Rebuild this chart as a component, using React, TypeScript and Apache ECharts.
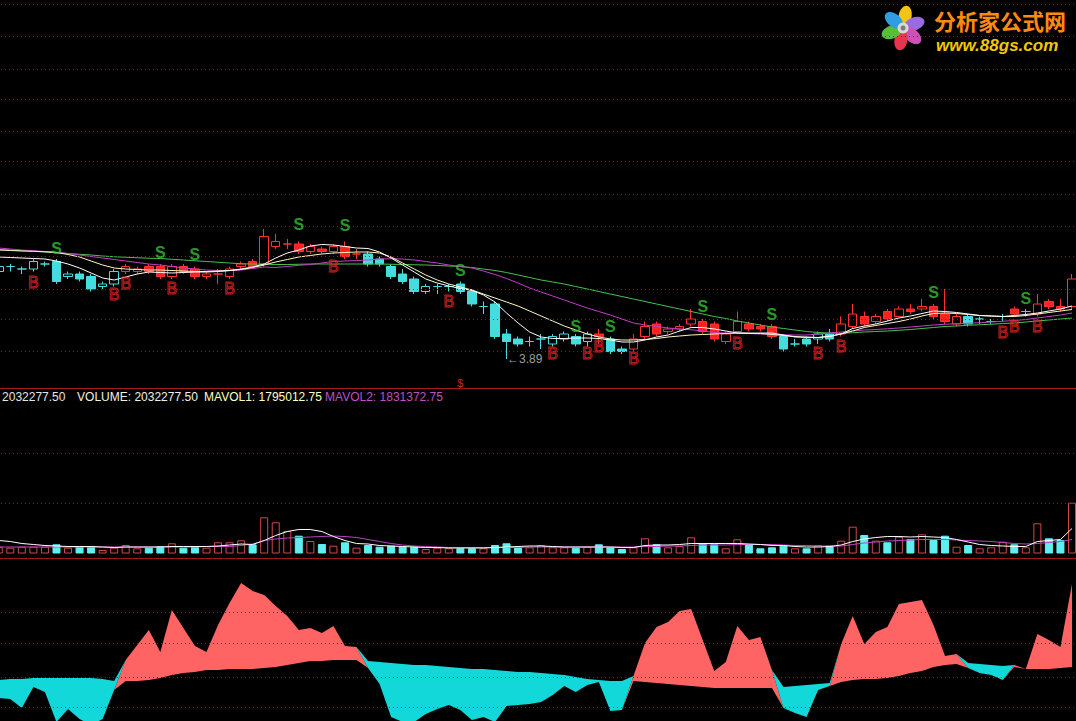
import React, { useEffect, useRef } from "react";
import * as echarts from "echarts";

// ---------- DATA ----------
const opens = [4.24,4.26,4.25,4.25,4.27,4.28,4.22,4.23,4.22,4.18, 4.19,4.24,4.24,4.26,4.26,4.22,4.26,4.25,4.22,4.23, 4.22,4.26,4.28,4.27,4.34,4.35,4.35,4.32,4.33,4.32, 4.34,4.31,4.31,4.29,4.26,4.23,4.21,4.16,4.18,4.18, 4.19,4.16,4.10,4.11,3.99,3.97,3.96,3.97,3.95,3.97, 3.98,3.96,3.99,3.97,3.93,3.93,3.98,4.03,4.00,4.01, 4.03,4.04,4.03,3.96,4.00,4.03,4.02,4.02,3.98,3.95, 3.97,3.97,3.99,3.99,4.02,4.06,4.04,4.08,4.06,4.09, 4.09,4.10,4.07,4.03,4.06,4.05,4.04,4.06,4.09,4.08, 4.07,4.12,4.10,4.10];
const closes = [4.26,4.26,4.25,4.28,4.27,4.20,4.23,4.21,4.17,4.19, 4.24,4.26,4.25,4.24,4.22,4.26,4.24,4.22,4.23,4.23, 4.25,4.27,4.26,4.38,4.36,4.35,4.32,4.34,4.32,4.34, 4.30,4.31,4.27,4.27,4.22,4.20,4.16,4.18,4.18,4.18, 4.16,4.11,4.10,3.98,3.96,3.95,3.96,3.97,3.98,3.99, 3.95,3.99,3.98,3.92,3.92,3.97,4.02,3.99,4.01,4.02, 4.05,4.00,3.97,3.99,4.04,4.01,4.01,3.98,3.93,3.95, 3.95,3.99,3.97,4.03,4.07,4.03,4.06,4.05,4.09,4.08, 4.10,4.06,4.04,4.06,4.03,4.05,4.04,4.06,4.07,4.08, 4.11,4.10,4.09,4.21];
const lows = [4.23,4.24,4.23,4.24,4.26,4.19,4.21,4.20,4.16,4.17, 4.18,4.23,4.23,4.23,4.21,4.21,4.23,4.21,4.21,4.19, 4.21,4.25,4.25,4.26,4.33,4.33,4.31,4.31,4.31,4.31, 4.29,4.29,4.26,4.26,4.21,4.19,4.15,4.15,4.15,4.16, 4.15,4.10,4.07,3.97,3.89,3.94,3.94,3.93,3.94,3.96, 3.94,3.94,3.95,3.91,3.91,3.92,3.97,3.98,3.99,4.00, 4.02,3.99,3.96,3.95,3.99,4.00,4.00,3.97,3.92,3.94, 3.94,3.95,3.96,3.98,4.01,4.02,4.03,4.04,4.06,4.07, 4.08,4.05,4.03,4.02,4.02,4.03,4.03,4.04,4.06,4.06, 4.06,4.09,4.08,4.09];
const highs = [4.27,4.27,4.26,4.29,4.28,4.29,4.24,4.24,4.23,4.20, 4.25,4.27,4.26,4.27,4.27,4.27,4.27,4.26,4.24,4.25, 4.26,4.28,4.29,4.41,4.39,4.37,4.36,4.35,4.34,4.35, 4.36,4.33,4.32,4.30,4.27,4.25,4.22,4.19,4.19,4.19, 4.20,4.17,4.12,4.12,4.01,3.98,3.98,3.99,3.99,4.00, 3.99,4.00,4.01,3.98,3.94,3.99,4.04,4.04,4.02,4.03, 4.09,4.05,4.04,4.00,4.08,4.04,4.03,4.03,3.99,3.97, 3.98,4.00,4.01,4.06,4.11,4.08,4.07,4.09,4.10,4.11, 4.13,4.11,4.17,4.07,4.07,4.06,4.05,4.07,4.10,4.09, 4.15,4.13,4.13,4.23];
// trend state of the colouring formula: runs of [state, length]
const trendRuns: [string, number][] = [["C",11],["R",21],["C",20],["R",1],["C",2],["R",13],["C",5],["R",11],["C",4],["R",1],["C",1],["R",4]];

const ma5 = [4.298,4.296,4.294,4.292,4.290,4.282,4.270,4.254,4.234,4.214, 4.206,4.218,4.230,4.238,4.236,4.234,4.236,4.238,4.238,4.240, 4.244,4.250,4.258,4.270,4.294,4.314,4.326,4.342,4.348,4.346, 4.340,4.334,4.332,4.318,4.294,4.266,4.238,4.210,4.194,4.182, 4.172,4.164,4.146,4.118,4.074,4.034,3.998,3.978,3.972,3.972, 3.974,3.974,3.972,3.966,3.958,3.958,3.966,3.978,3.986,4.002, 4.016,4.016,4.010,4.002,3.994,3.992,3.994,3.994,3.986,3.978, 3.978,3.976,3.980,3.990,4.012,4.022,4.030,4.042,4.054,4.062, 4.072,4.082,4.080,4.076,4.070,4.064,4.062,4.060,4.064,4.068, 4.074,4.082,4.090,4.102];
const ma10 = [4.326,4.324,4.322,4.321,4.319,4.316,4.308,4.298,4.282,4.266, 4.254,4.250,4.248,4.246,4.246,4.244,4.242,4.240,4.240,4.242, 4.244,4.248,4.256,4.266,4.278,4.288,4.298,4.304,4.310,4.314, 4.316,4.318,4.318,4.314,4.298,4.274,4.250,4.226,4.206,4.190, 4.178,4.166,4.150,4.134,4.118,4.102,4.082,4.062,4.042,4.022, 4.006,3.990,3.978,3.970,3.966,3.966,3.968,3.972,3.978,3.982, 3.986,3.988,3.990,3.992,3.994,3.994,3.992,3.988,3.984,3.980, 3.976,3.976,3.982,3.990,4.002,4.016,4.024,4.032,4.040,4.050, 4.062,4.072,4.074,4.072,4.068,4.064,4.062,4.060,4.060,4.064, 4.070,4.076,4.082,4.088];
const ma20 = [4.334,4.330,4.326,4.323,4.320,4.318,4.312,4.306,4.300,4.294, 4.288,4.282,4.276,4.270,4.266,4.260,4.254,4.250,4.246,4.244, 4.243,4.246,4.252,4.258,4.256,4.260,4.265,4.268,4.274,4.280, 4.282,4.284,4.286,4.290,4.291,4.290,4.286,4.280,4.274,4.266, 4.260,4.254,4.242,4.228,4.212,4.194,4.174,4.158,4.142,4.126, 4.110,4.094,4.080,4.066,4.050,4.034,4.026,4.020,4.014,4.010, 4.007,4.002,3.996,3.994,3.993,3.992,3.990,3.989,3.987,3.986, 3.986,3.990,3.994,3.998,4.002,4.006,4.008,4.011,4.014,4.018, 4.022,4.026,4.029,4.031,4.033,4.035,4.038,4.041,4.044,4.048, 4.054,4.060,4.066,4.074];
const ma60 = [4.328,4.326,4.323,4.321,4.318,4.315,4.312,4.309,4.306,4.302, 4.299,4.297,4.295,4.293,4.292,4.289,4.286,4.283,4.280,4.277, 4.274,4.271,4.270,4.269,4.268,4.268,4.269,4.270,4.270,4.270, 4.270,4.270,4.270,4.270,4.269,4.268,4.267,4.266,4.264,4.262, 4.260,4.256,4.250,4.244,4.236,4.226,4.216,4.206,4.198,4.190, 4.180,4.170,4.160,4.150,4.140,4.130,4.120,4.110,4.100,4.090, 4.080,4.070,4.060,4.052,4.042,4.034,4.026,4.018,4.012,4.006, 4.000,3.996,3.994,3.993,3.995,3.998,4.000,4.002,4.005,4.008, 4.012,4.016,4.020,4.022,4.025,4.027,4.029,4.032,4.034,4.038, 4.042,4.046,4.050,4.054];

const sellIdx = [5,14,17,26,30,40,50,53,61,67,81,89];
const sellAt = [4.334,4.318,4.310,4.430,4.426,4.246,4.022,4.022,4.100,4.070,4.158,4.134];
const buyIdx = [3,10,11,15,20,29,39,48,51,52,55,64,71,73,87,88,90];
const buyAt = [4.198,4.148,4.194,4.174,4.174,4.260,4.120,3.914,3.914,3.942,3.894,3.954,3.914,3.940,3.998,4.022,4.022];
const dollarIdx = 40;
const dollarAt = 3.794;
const lowIdx = 44;
const lowValue = 3.89;

const volumes = [272000,232000,272000,272000,272000,368000,232000,272000,272000,140000, 232000,340000,208000,232000,300000,408000,232000,272000,232000,448000, 448000,528000,368000,1448000,1248000,900000,712000,500000,380000,312000, 448000,232000,340000,272000,312000,272000,272000,180000,232000,208000, 208000,208000,208000,340000,408000,248000,248000,340000,248000,248000, 232000,272000,368000,248000,180000,248000,608000,368000,248000,300000, 648000,408000,368000,208000,568000,368000,208000,248000,312000,208000, 208000,340000,312000,512000,1072000,740000,512000,448000,672000,580000, 768000,540000,712000,272000,340000,208000,248000,472000,368000,248000, 1208000,608000,540000,2032277.5];
const mavol1 = [520000,480000,400000,360000,320000,300000,280000,280000,280000,260000, 240000,260000,260000,260000,260000,280000,280000,280000,280000,300000, 340000,380000,360000,520000,720000,880000,960000,960000,880000,680000, 520000,400000,380000,320000,300000,280000,260000,240000,240000,220000, 220000,220000,220000,240000,260000,280000,300000,300000,280000,260000, 260000,260000,260000,260000,240000,240000,320000,340000,340000,360000, 400000,400000,400000,400000,400000,380000,360000,320000,320000,280000, 260000,260000,280000,340000,480000,580000,640000,680000,680000,660000, 680000,660000,640000,560000,460000,360000,320000,300000,280000,280000, 480000,520000,560000,1000000];
const mavol2 = [260000,260000,260000,260000,260000,260000,260000,260000,260000,260000, 260000,260000,260000,260000,260000,260000,260000,260000,280000,280000, 280000,320000,380000,520000,580000,620000,640000,660000,680000,700000, 680000,640000,560000,480000,400000,340000,300000,280000,260000,240000, 240000,240000,240000,240000,240000,240000,260000,260000,260000,260000, 260000,260000,260000,260000,260000,260000,280000,280000,300000,300000, 320000,340000,340000,340000,360000,360000,360000,360000,340000,320000, 320000,300000,300000,300000,360000,420000,460000,500000,520000,540000, 560000,560000,560000,540000,520000,500000,480000,440000,400000,380000, 400000,440000,480000,560000];

const fastLine = [-0.21,-0.22,-0.31,-0.10,-0.15,-0.45,-0.32,-0.42,-0.48,-0.42, -0.13,0.17,0.32,0.47,0.25,0.67,0.49,0.31,0.25,0.52, 0.74,0.94,0.86,0.82,0.71,0.61,0.47,0.49,0.44,0.51, 0.31,0.30,0.09,-0.07,-0.40,-0.45,-0.45,-0.37,-0.32,-0.28, -0.33,-0.43,-0.40,-0.45,-0.29,-0.28,-0.27,-0.25,-0.18,-0.09, -0.15,-0.08,-0.05,-0.34,-0.33,0.01,0.34,0.50,0.55,0.66, 0.68,0.37,0.06,0.15,0.51,0.37,0.40,0.07,-0.31,-0.36, -0.40,-0.13,-0.09,0.33,0.61,0.33,0.45,0.50,0.73,0.75, 0.77,0.52,0.21,0.23,0.09,0.04,0.02,-0.03,0.12,0.08, 0.43,0.37,0.30,0.93];
const slowLine = [-0.03,-0.02,-0.02,-0.01,-0.01,-0.01,-0.01,-0.01,-0.01,-0.02, -0.04,-0.04,-0.04,-0.03,-0.01,0.02,0.04,0.05,0.07,0.07, 0.08,0.08,0.08,0.09,0.10,0.12,0.14,0.16,0.16,0.17, 0.17,0.17,0.16,0.15,0.14,0.13,0.12,0.12,0.11,0.10, 0.09,0.08,0.08,0.07,0.06,0.05,0.05,0.04,0.03,0.02, 0.00,-0.02,-0.03,-0.04,-0.04,-0.04,-0.05,-0.06,-0.07,-0.08, -0.09,-0.10,-0.11,-0.11,-0.11,-0.11,-0.11,-0.11,-0.10,-0.09, -0.08,-0.07,-0.06,-0.05,-0.03,-0.02,-0.02,-0.01,0.01,0.04, 0.06,0.10,0.12,0.13,0.14,0.13,0.12,0.11,0.10,0.08, 0.08,0.08,0.09,0.10];

const headerTexts = ["2032277.50", "VOLUME: 2032277.50", "MAVOL1: 1795012.75", "MAVOL2: 1831372.75"];

// ---------- STYLE ----------
const RED = "#ff3232";
const RED_FILL = "#ff2020";
const CYAN = "#44dcdc";
const VOL_CYAN = "#5ef0f0";
const VOL_RED = "#d04848";
const GRID = "#6e2424";
const BORDER = "#a01818";
const FONT = '"Liberation Sans", Arial, sans-serif';
const SHIFT = 7.07; // the chart canvas starts left of the window (first bar is cut)
const STEP = 11.54;

export default function App() {
  const ref = useRef<HTMLDivElement>(null);
  useEffect(() => {
    const chart = echarts.init(ref.current as HTMLDivElement, null, { renderer: "svg" });
    const n = opens.length;
    const cats = opens.map((_, i) => String(i + 1));
    const trend: string[] = [];
    trendRuns.forEach(([s, k]) => { for (let j = 0; j < k; j++) trend.push(s); });

    const candleData = opens.map((o, i) => {
      const up = closes[i] >= o;
      const line = trend[i] === "R" ? RED : CYAN;
      const fill = up ? "#000000" : trend[i] === "R" ? RED_FILL : CYAN;
      return {
        value: [o, closes[i], lows[i], highs[i]],
        itemStyle: { color: fill, color0: fill, borderColor: line, borderColor0: line, borderColorDoji: line, borderWidth: 1 },
      };
    });
    const volData = volumes.map((v, i) => {
      const up = closes[i] >= opens[i];
      return {
        value: v,
        itemStyle: up
          ? { color: "#000000", borderColor: VOL_RED, borderWidth: 1 }
          : { color: VOL_CYAN, borderColor: VOL_CYAN, borderWidth: 1 },
      };
    });
    const base = fastLine.map((f, i) => Math.min(f, slowLine[i]));
    const upPart = fastLine.map((f, i) => Math.max(f - slowLine[i], 0));
    const downPart = fastLine.map((f, i) => Math.max(slowLine[i] - f, 0));

    const priceMin = 3.774, priceMax = 5.326;
    const priceGrid: number[] = [];
    for (let k = 0; k <= 11; k++) priceGrid.push(+(3.92 + 0.126 * k).toFixed(3));

    const gridWidth = STEP * n;
    const dotted = { color: GRID, type: [1, 3] as any, width: 1 };
    const mkLines = (vals: number[]) => ({
      silent: true, symbol: ["none", "none"], label: { show: false }, lineStyle: dotted,
      data: vals.map((v) => ({ yAxis: v })),
    });
    const lineS = (name: string, data: number[], color: string, xi: number) => ({
      name, type: "line", data, xAxisIndex: xi, yAxisIndex: xi, showSymbol: false, symbol: "none",
      lineStyle: { color, width: 1 }, itemStyle: { color }, silent: true, clip: false, z: 3,
    });
    const X = (x: number) => x + SHIFT;

    const petals = [
      ["#f4c414", 10], ["#9a6ae0", 70], ["#cf4fb8", 130], ["#e8344c", 190], ["#5cbc38", 250], ["#2f9ee0", 310],
    ] as [string, number][];

    const option: any = {
      animation: false,
      backgroundColor: "#000000",
      grid: [
        { left: 0, width: gridWidth, top: 0, height: 388 },
        { left: 0, width: gridWidth, top: 389, height: 164.5 },
        { left: 0, width: gridWidth, top: 558, height: 163 },
      ],
      xAxis: [0, 1, 2].map((g) => ({
        type: "category", gridIndex: g, data: cats, boundaryGap: true, show: false,
      })),
      yAxis: [
        { type: "value", gridIndex: 0, min: priceMin, max: priceMax, show: false, splitLine: { show: false } },
        { type: "value", gridIndex: 1, min: 0, max: 6580000, show: false, splitLine: { show: false } },
        { type: "value", gridIndex: 2, min: -0.44, max: 1.19, show: false, splitLine: { show: false } },
      ],
      series: [
        {
          name: "K", type: "candlestick", data: candleData, xAxisIndex: 0, yAxisIndex: 0,
          barWidth: 9, clip: false, silent: true, z: 2,
          markLine: mkLines(priceGrid),
        },
        lineS("MA60", ma60, "#46c24e", 0),
        lineS("MA20", ma20, "#c040c8", 0),
        lineS("MA10", ma10, "#fff8c0", 0),
        lineS("MA5", ma5, "#ffffff", 0),
        {
          name: "S", type: "scatter", xAxisIndex: 0, yAxisIndex: 0, clip: false, silent: true, z: 5,
          data: sellIdx.map((ix, k) => [ix, sellAt[k]]), symbol: "rect", symbolSize: 1,
          itemStyle: { color: "rgba(0,0,0,0)" },
          label: { show: true, position: "inside", formatter: "S", color: "#34c234", fontSize: 16, fontWeight: "bold", fontFamily: FONT },
        },
        {
          name: "B", type: "scatter", xAxisIndex: 0, yAxisIndex: 0, clip: false, silent: true, z: 5,
          data: buyIdx.map((ix, k) => [ix, buyAt[k]]), symbol: "rect", symbolSize: 1,
          itemStyle: { color: "rgba(0,0,0,0)" },
          label: { show: true, position: "inside", formatter: "B", color: "rgba(0,0,0,0)", textBorderColor: "#ee2626", textBorderWidth: 1, fontSize: 16, fontFamily: FONT },
        },
        {
          name: "$", type: "scatter", xAxisIndex: 0, yAxisIndex: 0, clip: false, silent: true, z: 5,
          data: [[dollarIdx, dollarAt]], symbol: "rect", symbolSize: 1, itemStyle: { color: "rgba(0,0,0,0)" },
          label: { show: true, position: "inside", formatter: "$", color: "#ff3030", fontSize: 11, fontFamily: FONT },
        },
        {
          name: "low", type: "scatter", xAxisIndex: 0, yAxisIndex: 0, clip: false, silent: true, z: 5,
          data: [[lowIdx, lowValue]], symbol: "rect", symbolSize: 1, itemStyle: { color: "rgba(0,0,0,0)" },
          label: { show: true, position: "right", distance: 0, formatter: "\u2190" + lowValue.toFixed(2), color: "#c8c8c8", fontSize: 12, fontFamily: FONT },
        },
        {
          name: "VOL", type: "bar", data: volData, xAxisIndex: 1, yAxisIndex: 1, barWidth: 8, silent: true,
          markLine: mkLines([2000000, 4000000]),
        },
        lineS("MAVOL2", mavol2, "#c040c8", 1),
        lineS("MAVOL1", mavol1, "#ffffff", 1),
        {
          name: "base", type: "line", data: base, xAxisIndex: 2, yAxisIndex: 2, stack: "osc", stackStrategy: "all",
          showSymbol: false, symbol: "none", lineStyle: { width: 0, opacity: 0 }, silent: true,
          markLine: mkLines([0.65, 0.34, 0, -0.30]),
        },
        {
          name: "up", type: "line", data: upPart, xAxisIndex: 2, yAxisIndex: 2, stack: "osc", stackStrategy: "all",
          showSymbol: false, symbol: "none", lineStyle: { width: 0, opacity: 0 }, areaStyle: { color: "#ff6464", opacity: 1 }, silent: true,
        },
        {
          name: "down", type: "line", data: downPart, xAxisIndex: 2, yAxisIndex: 2, stack: "osc", stackStrategy: "all",
          showSymbol: false, symbol: "none", lineStyle: { width: 0, opacity: 0 }, areaStyle: { color: "#12d8da", opacity: 1 }, silent: true,
        },
      ],
      graphic: [
        { type: "line", silent: true, shape: { x1: X(0), y1: 388.5, x2: X(1076), y2: 388.5 }, style: { stroke: BORDER, lineWidth: 1 } },
        { type: "line", silent: true, shape: { x1: X(0), y1: 558.5, x2: X(1076), y2: 558.5 }, style: { stroke: BORDER, lineWidth: 1 } },
        { type: "text", silent: true, x: X(2), y: 397, style: { text: headerTexts[0], fill: "#e4e4e4", font: "12px " + FONT, verticalAlign: "middle" } },
        { type: "text", silent: true, x: X(77), y: 397, style: { text: headerTexts[1], fill: "#f2f2e4", font: "12px " + FONT, verticalAlign: "middle" } },
        { type: "text", silent: true, x: X(204), y: 397, style: { text: headerTexts[2], fill: "#ffffc4", font: "12px " + FONT, verticalAlign: "middle" } },
        { type: "text", silent: true, x: X(325), y: 397, style: { text: headerTexts[3], fill: "#c050c0", font: "12px " + FONT, verticalAlign: "middle" } },
        ...petals.map(([c, a]) => ({
          type: "ellipse", silent: true, x: X(903), y: 28, rotation: (-a * Math.PI) / 180,
          shape: { cx: 0, cy: -12, rx: 6.5, ry: 10.5 }, style: { fill: c },
        })),
        { type: "circle", silent: true, shape: { cx: X(903), cy: 28, r: 5.5 }, style: { fill: "#d8d8d8" } },
        { type: "circle", silent: true, shape: { cx: X(903), cy: 28, r: 2.5 }, style: { fill: "#7a7a7a" } },
        { type: "text", silent: true, x: X(934), y: 20, style: { text: "分析家公式网", fill: "#ff8a10", font: 'bold 22px "Noto Sans CJK SC", sans-serif', verticalAlign: "middle" } },
        { type: "text", silent: true, x: X(936), y: 45, style: { text: "www.88gs.com", fill: "#f2c800", font: "italic bold 17px " + FONT, verticalAlign: "middle" } },
      ],
    };
    chart.setOption(option);
    return () => chart.dispose();
  }, []);
  return (
    <div
      ref={ref}
      style={{ position: "fixed", left: -SHIFT, top: 0, width: 1086, height: 721, background: "#000" }}
    />
  );
}
